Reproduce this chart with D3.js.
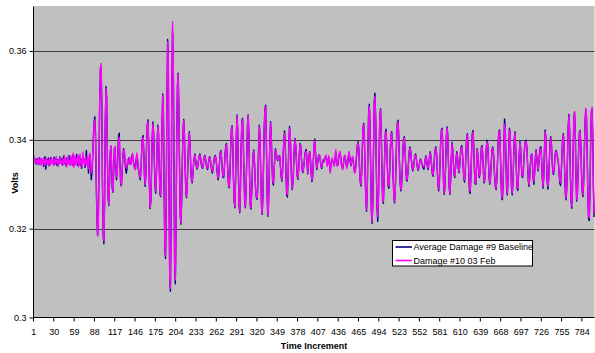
<!DOCTYPE html>
<html><head><meta charset="utf-8">
<script src="https://cdn.jsdelivr.net/npm/d3@7"></script>
<style>body{margin:0;background:#fff;} svg{display:block;font-family:Arial,"Liberation Sans",sans-serif;}</style>
</head><body><svg id="c" width="595" height="353"></svg>
<script>
const seriesNames = ["Average Damage #9 Baseline", "Damage #10 03 Feb"];
const seriesColors = ["#000080", "#FF00FF"];
const xTickLabels = [1,30,59,88,117,146,175,204,233,262,291,320,349,378,407,436,465,494,523,552,581,610,639,668,697,726,755,784];
const yTickValues = [300,320,340,360]; // millivolts
const yTickLabels = ["0.3","0.32","0.34","0.36"];
// values in millivolts
const baseline = [
336,335.4,334.8,335.6,334.5,335.8,335,334.4,335.9,335.2,334.6,335.7,334.9,335.3,334,335.8,336.2,333.4,335.1,335.6,
334.8,335.9,335.2,334.3,336,334.9,335.4,335,334.6,336.1,334.5,335.3,335.9,334.2,335.6,335.1,334.7,336.2,334.9,335.3,
335.8,334.3,335.5,336.4,334.7,335.2,334.1,335.9,335.3,334.6,336.5,335,334.4,335.7,336.1,334.3,336.6,335.2,334.5,335.8,
334.9,336.7,335.1,334.2,335.9,336.3,334.4,335.6,333.6,335.4,336.2,334.9,335.7,333.8,335.2,337.6,334.6,335.5,332.5,335.8,
336.5,333.5,331,332.5,336,340.5,344,345.2,341.5,332,322.5,318.6,321.5,334,348.5,356,356.5,348,330,318.5,
316.6,326,344.5,352,349.5,336,327,325.2,330,337,338.5,334,329,328.2,333,338,338.3,334,331,332.5,
337,341,341.5,334.5,330,329.6,332.5,336,338,337.5,335.5,333.5,332.5,333.5,335.5,335,336,335,334.5,335.5,
336.5,336.5,335,334.5,333.8,333.5,335.5,336.5,335.5,333.5,332.8,331.5,331,333.5,337.5,340.5,341,337,331.5,329.5,
332.5,339,343.5,344.5,339,330,324.5,326,333,340.5,344,341.5,335.5,329.5,328,332,339,343.3,341.5,334,
328,327.2,333,343.5,350.3,346,329,315.5,313.3,326,348,362.6,357.5,330,308,305.9,322,351,364.5,359,
336,312,307.6,320,340,352,355,348,334,323,321,326,335,342,344.6,341,334,328,327,330,
335,339.5,341.8,339,334,331,330.3,332,334.5,336,336.8,335.5,334,333.4,334,335.2,336.3,336.8,336,334.6,
333.8,333.6,334.6,335.9,336.5,335.8,334.6,333.7,333.3,334.4,335.6,336.2,335.5,334.2,333,332.5,333.6,335.2,336.2,336.5,
335.8,334.2,332.2,331,332,334.8,337,337.6,336,333.3,331.6,331.5,333.5,336.8,338.7,339.2,336.5,332.3,329.7,329.2,
332.5,338,342.3,343.2,339,331.3,326.2,324.7,331,340,345.6,342.5,333,325.2,323.6,329,338.5,344.2,344.8,340,
332.3,326.2,324.7,328.5,336,343.2,345.6,341.5,331.8,325.2,324.4,328,333,336.8,337.7,335,330.8,327.8,326.8,326.6,
331,339,343.3,340.5,331.8,325.2,323.2,327,335,343,347.3,347.8,340,328.3,322.8,325,332,340,344.1,341,
334.3,330.5,329.8,332.5,336.2,338,337.3,336,335.3,335.7,336.3,336.4,334.3,331.8,330.7,332.5,336.5,340.3,342,339,
332.3,327.6,327.1,331.5,338.5,343,341.5,336,330.8,328.8,330.5,334.5,338.7,340.3,338.5,335,331.8,331.1,333,336.5,
339.2,338.7,336,333.3,332.6,333.5,335,336.7,337.5,337.8,335,332.3,334,336.7,337.3,335.5,332.3,330.6,331.3,335,
338.7,340.2,337.5,334.8,333.3,334.5,335.9,336.6,336.4,335.3,334,333.5,334.6,335.5,335.1,335.4,336,336.3,335.7,334.5,
335,336,334.6,333,333.9,335.3,335.6,334.9,334.7,334.3,335.5,337.2,336.3,334.4,334.2,335.6,336.6,337,336.3,334.8,
333.8,333.6,334.5,335.9,336.3,335.7,334.5,333.9,334.5,336.1,337,336.2,334.9,334.2,335.2,336,335.4,333.8,332.8,332.8,
334.8,337,338.9,339.6,338,333.8,330.5,329.6,332.5,338,342.7,343.7,340,332.8,326.2,323.9,328,338,346.2,348,
343,332.8,323.6,321.2,326,338,348.6,350.5,345.3,333.8,324.5,321.6,326.8,337,345.3,347,342,332.8,326.6,325.7,
330,337,341.8,342.4,338,332.8,329.4,329.1,332.5,338,341.2,341.8,338,331.8,327.2,325.8,328.5,334,340.2,343.8,
344.4,341,334.8,330.2,328.5,329.5,333,337.6,340.3,340.7,338,333.8,331,330.7,332.5,335,337.5,338.4,337.5,335.6,
333.8,333,333.8,335.1,336.4,336.8,336,334.4,333.4,333.1,334,335.1,335.7,335.3,334.6,334,333.6,333.4,334.4,335.9,
336.4,335.2,333.8,333.3,334.5,336.4,337.3,336.2,334,332.3,331.8,333.5,336,337.8,338.4,337,333.3,329.8,328.5,330.5,
335,340.2,342.3,342.6,337,330.3,327.7,329.5,335,340.7,342.9,341,334.8,329.2,327.7,330.5,335.6,339.4,338,334.8,
332.2,331.5,333.5,336.2,337.3,336,333.6,332.6,334,336.6,338.3,338.7,337,333.8,331.2,330.5,333,337.2,340.6,341.4,
338.5,332.2,328.3,327.9,331.5,337.2,341.4,342.1,339,333.3,330.2,330,334,338,336.5,333,331.5,332.5,335.6,338.3,
338.7,336.5,332.3,330.3,331.2,334.5,338.2,339.9,339.1,335.5,331.3,330,331.5,334.5,337.5,338.4,337.5,334.8,331.5,329.3,
328.8,331,335,339.7,341.8,342.2,338,331.3,326.8,326.5,330,337.5,344.7,343,336,329.2,327.6,331,337.6,342.6,
341.6,334.8,329.2,327.6,330,335.6,340.2,341.8,338.5,332.8,329,328.6,332,336.6,339.6,338.3,334.3,331.7,331.5,333.5,
336.6,339,339.7,339.9,338,334.3,330.7,329.5,331.5,334.6,336.5,336.8,334.3,331.1,330,332.5,336,337.7,336.5,334.3,
333,334.5,337,338.3,338.4,335.5,331.3,329.1,331.5,337.3,342.2,340.6,335.3,330.6,328.9,331,335.2,339.3,340.7,339,
335.3,332.7,332.2,333.5,336,337.4,337.6,336.5,335.8,334.7,332.2,330.3,329.7,332.5,336.7,340.3,341.4,339,332.2,327.6,
326.5,329.5,336.7,343.2,345.7,342,332.8,326.2,324.6,328.5,337.2,344.7,346.2,342,332.3,326.2,327.4,332.5,338.7,341.8,
342.1,338.5,332.3,328.2,327.2,330.5,337.2,344,346.8,345.3,337.3,327.6,322.2,321.8,328.5,339.2,346.3,347,341,328.6,322.6
];
const damage = [
336.5,335,335.8,334.6,335.4,334.8,335.9,334.5,335.2,335.8,334.3,335.6,335,334.4,336,335.1,334.2,335.5,335.9,334.6,
335.3,334.1,335.8,335,334.5,336.1,334.8,335.4,334.2,335.7,335.1,334.6,336.2,334.9,335.3,334,335.6,336,334.7,335.2,
334.4,335.9,335,334.5,336.3,334.8,335.5,333.9,335.7,336.2,334.6,335.3,334.2,336.4,335.1,334.5,337,333.8,335.6,336.5,
334.3,335.8,334.9,336.6,333.9,335.4,336.8,334.6,335.2,333.7,337.2,334.8,335.5,334.2,336.3,335,334.1,335.8,333.5,336.5,
337,334.5,332.5,333,336.5,340.5,343.5,344.5,341,332,322.5,318.3,321,334,349,356,357.2,349,331,319,
317.3,326,344,351.5,349,336,327.5,325.4,330,337,338.7,334.5,329.5,328.4,333,338,338.5,334,331.5,332.5,
336.5,340,340.5,334.5,330.5,329.8,332.5,336,337.5,337.8,336,334.5,333.6,334,335.5,334.5,335.5,336,335,334.5,
336,337,335.5,334,333.5,333.2,335,337,336,334,333,331.8,331.4,333.5,337.5,340.3,340.5,337,332,330,
332.5,339,343.5,344.1,339,330,324.8,326,333,340.5,343.5,341.5,335.5,330,328.5,332,339,343,341.5,334,
328.5,327.5,333,343.5,350,346,329,316,313.8,326,348,362,358,330,309,306.5,322,352,366.6,360,
336,313,308.5,320,340,352,354.8,348,334,323.5,321.3,326,335,342,344.3,341,334,328.5,327.3,330,
335,339.5,341.5,339,334,331,330.6,332,334.5,336,336.6,335.5,334.2,333.6,334.2,335.3,336.2,336.6,336,334.8,
334,333.8,334.6,335.8,336.3,335.8,334.8,333.9,333.6,334.4,335.5,336,335.6,334.4,333.3,332.9,333.6,335,336,336.3,
336,334.5,332.5,331.4,332,334.5,336.8,337.4,336,333.5,332,331.8,333.5,336.5,338.5,338.9,336.5,332.5,330,329.5,
332.5,338,342,342.9,339,331.5,326.5,325,331,340,345.4,342.5,333,325.5,323.9,329,338.5,344,344.5,340,
332.5,326.5,325,328.5,336,343,345.4,341.5,332,325.5,324.7,328,333,336.5,337.4,335,331,328,327,326.9,
331,339,343,340.5,332,325.5,323.5,327,335,343,347,347.5,340,328.5,323.1,325,332,340,343.8,341,
334.5,331,330.3,332.5,336,337.8,337.3,336.2,335.5,335.7,336.1,336.2,334.5,332,331,332.5,336.5,340,341.5,339,
332.5,328,327.6,331.5,338.5,342.6,341.5,336,331,329.1,330.5,334.5,338.5,340,338.5,335,332,331.4,333,336.5,
339,338.5,336,333.5,332.9,333.5,335,336.5,337.2,337.4,335,332.5,334,336.5,337.1,335.5,332.5,331,331.5,335,
338.5,339.8,337.5,335,333.6,334.5,335.8,336.4,336.6,335.5,334.2,333.8,334.5,335.3,335.3,335.6,336.2,336.6,335.4,334,
335.2,336.4,335,332.5,333.6,335,335.9,335.2,334.4,334,335.8,337.8,336,334,334.5,336,337,337.4,336,334.5,
333.5,333.3,334.8,336.2,336.6,335.5,334.2,333.6,334.8,336.5,337.4,336,334.6,334.4,335.5,336.3,335.2,333.5,332.5,333,
335,337,338.7,339.3,338,334,330.8,329.9,332.5,338,342.5,343.4,340,333,326.5,324.3,328,338,346,347.5,
343,333,324,321.6,326,338,348,349.7,345,334,325,322.7,327,337,345,346.7,342,333,327,326.1,
330,337,341.5,341.9,338,333,329.8,329.5,332.5,338,341,341.5,338,332,327.5,326.1,328.5,334,340,343.5,
344,341,335,330.5,328.8,329.5,333,337.5,340,340.4,338,334,331.3,331,332.5,335,337.3,338.1,337.5,335.8,
334,333.3,333.8,335,336.2,336.6,336,334.6,333.6,333.3,334,335,335.5,335.2,334.8,334.3,334,333.9,334.6,335.8,
336.2,335.2,334,333.6,334.5,336.2,337,336.2,334.2,332.6,332.1,333.5,335.8,337.6,338.1,337,333.5,330,328.8,330.5,
335,340,342,342.3,337,330.5,328,329.5,335,340.5,342.6,341,335,329.5,328,330.5,335.5,339.1,338,335,
332.5,331.8,333.5,336,337,336,333.8,332.9,334,336.5,338,338.4,337,334,331.6,331,333,337,340.3,341.1,
338.5,332.5,328.8,328.4,331.5,337,341,341.7,339,333.5,330.5,330.3,334,337.8,336.5,333.3,331.8,332.5,335.5,338,
338.4,336.5,332.5,330.6,331.2,334.5,338,339.6,339,335.5,331.5,330.3,331.5,334.5,337.3,338.1,337.5,335,331.8,329.6,
329.1,331,335,339.5,341.5,341.9,338,331.5,327.2,326.9,330,337,343.5,342.5,336,329.5,328,331,337.5,342.3,
341.5,335,329.5,328,330,335.5,340,341.5,338.5,333,329.5,329.1,332,336.5,339.3,338.3,334.5,332,331.8,333.5,
336.5,338.8,339.4,339.6,338,334.5,331,329.9,331.5,334.5,336.3,336.6,334.5,331.5,330.6,332.5,335.8,337.4,336.5,334.5,
333.3,334.5,336.8,338,338.1,335.5,331.5,329.5,331.5,337,341.7,340.5,335.5,331,329.5,331,335,339,340.4,339,
335.5,333,332.5,333.5,335.8,337.2,337.4,336.5,336,335,332.5,330.8,330.3,332.5,336.5,340,341.1,339,332.5,328,
326.9,329.5,336.5,343,345.4,342,333,326.5,325,328.5,337,344.5,346.4,342,332.5,326.5,327.5,332.5,338.5,341.5,
341.9,338.5,332.5,328.5,327.6,330.5,337,344,347.1,345.5,337.5,328,322.8,322.4,328.5,339,346.5,347.3,341,329,323.5
];
const categories = d3.range(1, damage.length + 1);

const svg = d3.select("#c");
const L = 33.5, R = 594.5, T = 6.5, B = 317.5;

const x = d3.scaleBand().domain(categories).range([L, R]).padding(0);
const y = d3.scaleLinear().domain([300, 370]).range([B, T]);
const cx = c => x(c) + x.bandwidth() / 2;

// plot area
svg.append("rect").attr("x", L).attr("y", T - 0.5).attr("width", R - L).attr("height", B - T + 0.5).attr("fill", "#C0C0C0");

// gridlines
svg.append("g").selectAll("line").data(yTickValues.slice(1)).join("line")
  .attr("x1", L).attr("x2", R).attr("y1", d => Math.round(y(d)) + 0.5).attr("y2", d => Math.round(y(d)) + 0.5)
  .attr("stroke", "#3a3a3a").attr("stroke-width", 1.2);

// lines
const line = d3.line().x((d, i) => cx(categories[i])).y(d => y(d));
[baseline, damage].forEach((s, k) => {
  svg.append("path").datum(s).attr("d", line).attr("fill", "none")
    .attr("stroke", seriesColors[k]).attr("stroke-width", 1.35).attr("stroke-linejoin", "round");
});

// y axis
const yAxis = d3.axisLeft(y).tickValues(yTickValues).tickFormat((d, i) => yTickLabels[i]).tickSize(4).tickPadding(3);
const gy = svg.append("g").attr("transform", `translate(${L},0)`).call(yAxis);
gy.select(".domain").attr("d", `M-0,${T}V${B}`).attr("stroke", "#000");
gy.selectAll("text").attr("font-size", "9px").attr("fill", "#000").attr("font-family", "Arial, 'Liberation Sans', sans-serif");

// x axis
const gx = svg.append("g").attr("transform", `translate(0,${B})`);
gx.append("line").attr("x1", L).attr("x2", R).attr("y1", 0).attr("y2", 0).attr("stroke", "#000");
gx.selectAll("line.tk").data(xTickLabels).join("line").attr("class", "tk")
  .attr("x1", d => x(d)).attr("x2", d => x(d)).attr("y1", 0).attr("y2", 4).attr("stroke", "#000");
gx.selectAll("text").data(xTickLabels).join("text")
  .attr("x", d => cx(d)).attr("y", 17).attr("text-anchor", "middle")
  .attr("font-size", "9px").attr("fill", "#000").text(d => d);

// axis titles
svg.append("text").attr("x", (L + R) / 2).attr("y", 349).attr("text-anchor", "middle")
  .attr("font-size", "9px").attr("font-weight", "bold").text("Time Increment");
svg.append("text").attr("transform", "translate(17.5,183) rotate(-90)").attr("text-anchor", "middle")
  .attr("font-size", "9px").attr("font-weight", "bold").text("Volts");

// legend
const lg = svg.append("g").attr("transform", "translate(392.5,240.5)");
lg.append("rect").attr("width", 140).attr("height", 25.5).attr("fill", "#fff").attr("stroke", "#000").attr("stroke-width", 1);
seriesNames.forEach((n, k) => {
  const yy = 6.5 + k * 13.5;
  lg.append("line").attr("x1", 3).attr("x2", 19.5).attr("y1", yy).attr("y2", yy).attr("stroke", seriesColors[k]).attr("stroke-width", 1.6);
  lg.append("text").attr("x", 21).attr("y", yy + 3.3).attr("font-size", "9px").attr("fill", "#000").text(n);
});
</script>
</body></html>
